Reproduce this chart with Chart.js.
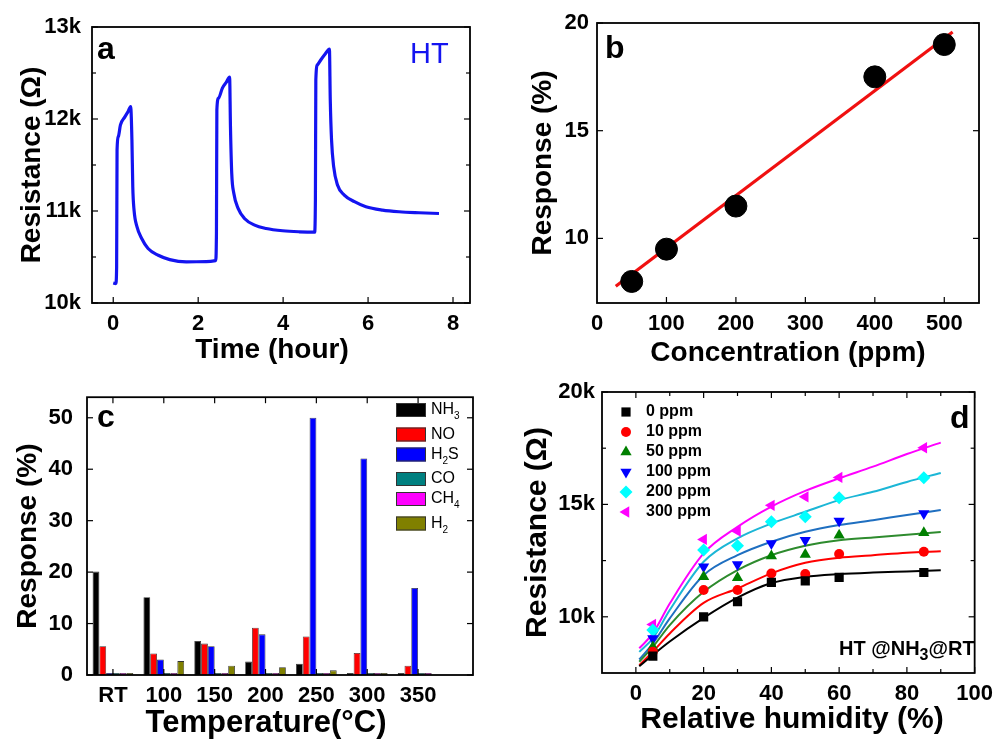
<!DOCTYPE html>
<html>
<head>
<meta charset="utf-8">
<script src="https://cdn.jsdelivr.net/npm/chart.js@4.4.0/dist/chart.umd.min.js"></script>
<style>
  html, body { margin: 0; padding: 0; background: #fff; }
  #fig { position: relative; width: 1001px; height: 740px; overflow: hidden; }
  canvas { position: absolute; }
</style>
</head>
<body>
<div id="fig">
  <canvas id="chartA" width="490" height="370" style="left:0;top:0"></canvas>
  <canvas id="chartB" width="511" height="370" style="left:490px;top:0"></canvas>
  <canvas id="chartC" width="490" height="370" style="left:0;top:370px"></canvas>
  <canvas id="chartD" width="511" height="370" style="left:490px;top:370px"></canvas>
</div>
<script>
// ------------------------------------------------------------
// (a) resistance vs time, three NH3 pulses
// ------------------------------------------------------------
const timeHours = [0, 0.06, 0.08, 0.09, 0.12, 0.17, 0.27, 0.35, 0.41, 0.44, 0.46, 0.49, 0.56, 0.67, 0.82, 1.06, 1.33, 1.72, 2.19, 2.41,
  2.43, 2.44, 2.48, 2.57, 2.66, 2.74, 2.76, 2.79, 2.84, 2.94, 3.09, 3.33, 3.60, 3.99, 4.38, 4.74,
  4.76, 4.77, 4.81, 4.89, 4.99, 5.09, 5.11, 5.14, 5.19, 5.28, 5.44, 5.68, 5.95, 6.34, 6.73, 7.20, 7.67];
const resistanceA = [10218, 10211, 10392, 11664, 11809, 11936, 12020, 12081, 12136, 11773, 11264, 11010, 10828, 10701, 10592, 10519, 10472, 10447, 10450, 10461,
  10756, 12100, 12227, 12336, 12397, 12455, 11918, 11409, 11191, 11028, 10919, 10846, 10810, 10785, 10774, 10770,
  11119, 12426, 12590, 12644, 12706, 12761, 12208, 11773, 11482, 11282, 11173, 11101, 11046, 11010, 10992, 10981, 10973];
const ticksAX = [0, 2, 4, 6, 8];
const ticksAY = [10000, 11000, 12000, 13000];
const minorAY = [10500, 11500, 12500];

// ------------------------------------------------------------
// (b) response vs concentration + linear fit
// ------------------------------------------------------------
const concentration = [50, 100, 200, 400, 500];
const responseB = [8.0, 9.5, 11.5, 17.5, 19.0];
const fitConc = [27, 512];
const fitResp = [7.78, 19.58];
const ticksBX = [100, 200, 300, 400, 500];
const ticksBXLabels = [0, 100, 200, 300, 400, 500];
const ticksBY = [10, 15, 20];

// ------------------------------------------------------------
// (c) selectivity vs operating temperature
// ------------------------------------------------------------
const temperatures = ['RT', '100', '150', '200', '250', '300', '350'];
const gasNames = ['NH3', 'NO', 'H2S', 'CO', 'CH4', 'H2'];
const respNH3 = [20.1, 15.1, 6.6, 2.6, 2.2, 0.4, 0.4];
const respNO = [5.6, 4.2, 6.1, 9.2, 7.5, 4.3, 1.8];
const respH2S = [0.4, 3.0, 5.6, 7.9, 50.0, 42.1, 16.9];
const respCO = [0.4, 0.4, 0.4, 0.4, 0.4, 0.4, 0.4];
const respCH4 = [0.4, 0.4, 0.4, 0.4, 0.4, 0.4, 0.4];
const respH2 = [0.4, 2.7, 1.8, 1.5, 0.9, 0.4, 0];
const ticksCY = [0, 10, 20, 30, 40, 50];

// ------------------------------------------------------------
// (d) resistance vs relative humidity at several NH3 levels
// ------------------------------------------------------------
const humidity = [5, 20, 30, 40, 50, 60, 85];
const ppmLabels = ['0 ppm', '10 ppm', '50 ppm', '100 ppm', '200 ppm', '300 ppm'];
const r0ppm = [8250, 10000, 10670, 11530, 11600, 11750, 11970];
const r10ppm = [8440, 11190, 11190, 11930, 11900, 12790, 12890];
const r50ppm = [8660, 11780, 11740, 12700, 12770, 13630, 13740];
const r100ppm = [9040, 12230, 12330, 13260, 13410, 14260, 14600];
const r200ppm = [9410, 12970, 13160, 14230, 14450, 15300, 16190];
const r300ppm = [9660, 13440, 13810, 14960, 15340, 16200, 17520];
const fitHumidity = [1, 5, 10, 20, 30, 40, 50, 60, 70, 80, 90];
const fit0ppm = [7800, 8300, 8900, 9950, 10850, 11500, 11780, 11900, 11970, 12020, 12070];
const fit10ppm = [7850, 8450, 9260, 10620, 11260, 11930, 12400, 12630, 12740, 12850, 12920];
const fit50ppm = [8000, 8660, 9630, 11110, 12080, 12740, 13160, 13410, 13530, 13650, 13770];
const fit100ppm = [8100, 8810, 9930, 11850, 12740, 13340, 13780, 14080, 14300, 14530, 14750];
const fit200ppm = [8440, 9040, 10300, 12450, 13490, 14150, 14670, 15190, 15560, 16000, 16400];
const fit300ppm = [8600, 9260, 10590, 12820, 14000, 14900, 15600, 16160, 16680, 17240, 17750];
const ticksDX = [0, 20, 40, 60, 80, 100];
const minorDX = [10, 30, 50, 70, 90];
const ticksDY = [10000, 15000, 20000];
const minorDY = [12500, 17500];

// ------------------------------------------------------------
// shared look
// ------------------------------------------------------------
const FONT = "'Liberation Sans', Arial, Helvetica, sans-serif";
Chart.defaults.font.family = FONT;
Chart.defaults.color = '#000';

const toXY = (xs, ys) => xs.map((x, i) => ({ x: x, y: ys[i] }));
const setTicks = (vals) => (s) => { s.ticks = vals.map((v) => ({ value: v })); };

// text where digits are written as subscripts (NH3, H2S ...)
function drawSubText(ctx, text, x, y, size, weight, subScale, subDrop) {
  let cx = x;
  for (const part of text.match(/\d+|\D+/g)) {
    const sub = /^\d+$/.test(part);
    ctx.font = `${weight} ${sub ? Math.round(size * subScale) : size}px ${FONT}`;
    ctx.fillText(part, cx, sub ? y + size * subDrop : y);
    cx += ctx.measureText(part).width;
  }
}

function drawMarker(ctx, style, rot, x, y, r) {
  ctx.save();
  ctx.translate(x, y);
  ctx.rotate(((rot || 0) * Math.PI) / 180);
  ctx.beginPath();
  if (style === 'circle') ctx.arc(0, 0, r, 0, 2 * Math.PI);
  else if (style === 'rect') { const s = r * Math.SQRT1_2; ctx.rect(-s, -s, 2 * s, 2 * s); }
  else if (style === 'rectRot') { ctx.moveTo(0, -r); ctx.lineTo(r, 0); ctx.lineTo(0, r); ctx.lineTo(-r, 0); ctx.closePath(); }
  else { ctx.moveTo(0, -r); ctx.lineTo(r * 0.866, r * 0.5); ctx.lineTo(-r * 0.866, r * 0.5); ctx.closePath(); }
  ctx.fill();
  ctx.restore();
}

// box frame, inward ticks on every side, panel letter, x title
const framePlugin = {
  id: 'frame',
  afterDraw(chart, args, o) {
    const { ctx, chartArea: a, scales } = chart;
    ctx.save();
    ctx.strokeStyle = '#000';
    ctx.lineWidth = 1.2;
    const xt = (vals, len) => vals.forEach((v) => {
      const p = scales.x.getPixelForValue(v);
      ctx.beginPath(); ctx.moveTo(p, a.bottom); ctx.lineTo(p, a.bottom - len); ctx.stroke();
      if (o.top) { ctx.beginPath(); ctx.moveTo(p, a.top); ctx.lineTo(p, a.top + len); ctx.stroke(); }
    });
    const yt = (vals, len) => vals.forEach((v) => {
      const p = scales.y.getPixelForValue(v);
      ctx.beginPath(); ctx.moveTo(a.left, p); ctx.lineTo(a.left + len, p); ctx.stroke();
      if (o.right) { ctx.beginPath(); ctx.moveTo(a.right, p); ctx.lineTo(a.right - len, p); ctx.stroke(); }
    });
    xt(o.xMajor || [], 6); xt(o.xMinor || [], 4);
    yt(o.yMajor || [], 6); yt(o.yMinor || [], 4);
    ctx.lineWidth = 1.8;
    ctx.strokeRect(a.left, a.top, a.right - a.left, a.bottom - a.top);
    ctx.fillStyle = '#000';
    if (o.letter) {
      ctx.font = `bold 32px ${FONT}`;
      ctx.textBaseline = 'alphabetic';
      ctx.fillText(o.letter, o.letterX, o.letterY);
    }
    if (o.xTitle) {
      ctx.font = `bold ${o.xTitleSize}px ${FONT}`;
      ctx.textAlign = 'center';
      ctx.textBaseline = 'middle';
      ctx.fillText(o.xTitle, o.xTitleX, o.xTitleY);
    }
    ctx.restore();
  }
};

function baseScale(size, opts) {
  return Object.assign({
    type: 'linear',
    grid: { display: false, drawTicks: false },
    border: { display: false },
    ticks: { font: { size: 22, weight: 'bold' }, color: '#000', padding: 8 }
  }, opts);
}
function axisTitle(text, size, pad) {
  return {
    display: true, text: text, color: '#000',
    font: { size: size, weight: 'bold', lineHeight: 1 },
    padding: { top: pad, bottom: 0 }
  };
}
const common = {
  responsive: false,
  animation: false,
  events: [],
};

// ------------------------------------------------------------
// (a)
// ------------------------------------------------------------
new Chart(document.getElementById('chartA'), {
  type: 'line',
  data: {
    datasets: [{
      data: toXY(timeHours, resistanceA),
      borderColor: '#1414f0',
      borderWidth: 3.2,
      pointRadius: 0,
      cubicInterpolationMode: 'monotone'
    }]
  },
  options: Object.assign({}, common, {
    layout: { padding: { top: 27, right: 20, left: 0, bottom: 0 } },
    plugins: {
      legend: { display: false }, tooltip: { enabled: false },
      frame: {
        xMajor: ticksAX, yMajor: ticksAY, yMinor: minorAY, right: true, letter: 'a', letterX: 97, letterY: 59,
        xTitle: 'Time (hour)', xTitleSize: 28, xTitleX: 272, xTitleY: 350
      }
    },
    scales: {
      x: baseScale(22, {
        min: -0.5, max: 8.4,
        afterBuildTicks: setTicks(ticksAX),
        afterFit: (s) => { s.height = 67; }
      }),
      y: baseScale(22, {
        min: 10000, max: 13000,
        afterBuildTicks: setTicks(ticksAY),
        afterFit: (s) => { s.width = 92; },
        ticks: { font: { size: 22, weight: 'bold' }, color: '#000', padding: 11, callback: (v) => v / 1000 + 'k' },
        title: axisTitle('Resistance (\u03A9)', 28, 18)
      })
    }
  }),
  plugins: [framePlugin, {
    id: 'htLabel',
    afterDraw(chart) {
      const ctx = chart.ctx;
      ctx.save();
      ctx.fillStyle = '#1414f0';
      ctx.font = `29px ${FONT}`;
      ctx.fillText('HT', 410, 63);
      ctx.restore();
    }
  }]
});

// ------------------------------------------------------------
// (b)
// ------------------------------------------------------------
new Chart(document.getElementById('chartB'), {
  type: 'scatter',
  data: {
    datasets: [
      { data: toXY(concentration, responseB), backgroundColor: '#000', borderColor: '#000', pointRadius: 11, showLine: false },
      { data: toXY(fitConc, fitResp), borderColor: '#f01010', borderWidth: 3.2, pointRadius: 0, showLine: true }
    ]
  },
  options: Object.assign({}, common, {
    layout: { padding: { top: 23, right: 22, left: 0, bottom: 0 } },
    plugins: {
      legend: { display: false }, tooltip: { enabled: false },
      frame: {
        xMajor: ticksBX, yMajor: ticksBY, right: true, letter: 'b', letterX: 115, letterY: 58,
        xTitle: 'Concentration (ppm)', xTitleSize: 28, xTitleX: 298, xTitleY: 353
      }
    },
    scales: {
      x: baseScale(22, {
        min: 0, max: 550,
        afterBuildTicks: setTicks(ticksBXLabels),
        afterFit: (s) => { s.height = 67; }
      }),
      y: baseScale(22, {
        min: 7, max: 20,
        afterBuildTicks: setTicks(ticksBY),
        afterFit: (s) => { s.width = 107; },
        title: axisTitle('Response (%)', 28, 39)
      })
    }
  }),
  plugins: [framePlugin]
});

// ------------------------------------------------------------
// (c)
// ------------------------------------------------------------
const gasSeries = [respNH3, respNO, respH2S, respCO, respCH4, respH2];
const gasColors = ['#000000', '#ff0000', '#0000ff', '#008080', '#ff00ff', '#808000'];
new Chart(document.getElementById('chartC'), {
  type: 'bar',
  data: {
    datasets: gasSeries.map((vals, g) => ({
      label: gasNames[g],
      data: vals.map((v, i) => ({ x: i, y: v })),
      backgroundColor: gasColors[g],
      borderColor: '#333',
      borderWidth: 0.8,
      categoryPercentage: 0.8,
      barPercentage: 1.0
    }))
  },
  options: Object.assign({}, common, {
    layout: { padding: { top: 25, right: 17, left: 0, bottom: 0 } },
    plugins: {
      legend: { display: false }, tooltip: { enabled: false },
      frame: {
        xMajor: temperatures.map((t, i) => i), yMajor: ticksCY, right: true, top: true, letter: 'c', letterX: 97, letterY: 57,
        xTitle: 'Temperature(\u00B0C)', xTitleSize: 31, xTitleX: 266, xTitleY: 353
      }
    },
    scales: {
      x: baseScale(22, {
        min: -0.51, max: 7.08,
        offset: false,
        afterBuildTicks: setTicks(temperatures.map((t, i) => i)),
        afterFit: (s) => { s.height = 65; },
        ticks: { font: { size: 22, weight: 'bold' }, color: '#000', padding: 8, callback: (v) => temperatures[v] }
      }),
      y: baseScale(22, {
        min: 0, max: 54,
        afterBuildTicks: setTicks(ticksCY),
        afterFit: (s) => { s.width = 87; },
        ticks: { font: { size: 22, weight: 'bold' }, color: '#000', padding: 14 },
        title: axisTitle('Response (%)', 28, 14)
      })
    }
  }),
  plugins: [framePlugin, {
    id: 'gasLegend',
    afterDraw(chart) {
      const ctx = chart.ctx;
      ctx.save();
      ctx.textBaseline = 'middle';
      let y = 40;
      chart.data.datasets.forEach((ds, i) => {
        if (i > 0) y += 20 + (/\d/.test(chart.data.datasets[i - 1].label) ? 4.5 : 0);
        ctx.fillStyle = ds.backgroundColor;
        ctx.fillRect(396, y - 7, 30, 14);
        ctx.strokeStyle = '#333';
        ctx.lineWidth = 1;
        ctx.strokeRect(396.5, y - 6.5, 29, 13);
        ctx.fillStyle = '#000';
        drawSubText(ctx, ds.label, 431, y, 16, 'normal', 0.6, 0.42);
      });
      ctx.restore();
    }
  }]
});

// ------------------------------------------------------------
// (d)
// ------------------------------------------------------------
const ppmSeries = [r0ppm, r10ppm, r50ppm, r100ppm, r200ppm, r300ppm];
const ppmFits = [fit0ppm, fit10ppm, fit50ppm, fit100ppm, fit200ppm, fit300ppm];
const markerColors = ['#000000', '#ff0000', '#008000', '#0000ff', '#00ffff', '#ff00ff'];
const fitColors = ['#000000', '#ff0000', '#2e8b2e', '#1f6fc0', '#1cb6d6', '#ff00ff'];
const markerStyles = ['rect', 'circle', 'triangle', 'triangle', 'rectRot', 'triangle'];
const markerRot = [0, 0, 0, 180, 0, -90];
const markerSize = [6.5, 5, 6.5, 6.5, 6.5, 6.5];

new Chart(document.getElementById('chartD'), {
  type: 'scatter',
  data: {
    datasets: ppmSeries.map((vals, k) => ({
      label: ppmLabels[k],
      data: toXY(humidity, vals),
      backgroundColor: markerColors[k],
      borderColor: markerColors[k],
      borderWidth: 0,
      pointStyle: markerStyles[k],
      rotation: markerRot[k],
      pointRadius: markerSize[k],
      showLine: false
    })).concat(ppmFits.map((vals, k) => ({
      label: '',
      data: toXY(fitHumidity, vals),
      borderColor: fitColors[k],
      borderWidth: 2,
      pointRadius: 0,
      showLine: true,
      cubicInterpolationMode: 'monotone'
    })))
  },
  options: Object.assign({}, common, {
    layout: { padding: { top: 22, right: 19, left: 0, bottom: 0 } },
    plugins: {
      legend: { display: false }, tooltip: { enabled: false },
      frame: {
        xMajor: ticksDX, xMinor: minorDX, yMajor: ticksDY, yMinor: minorDY, right: true, top: true, letter: 'd', letterX: 460, letterY: 58,
        xTitle: 'Relative humidity (%)', xTitleSize: 30, xTitleX: 302, xTitleY: 350
      }
    },
    scales: {
      x: baseScale(22, {
        min: -10, max: 100,
        afterBuildTicks: setTicks(ticksDX),
        afterFit: (s) => { s.height = 67; }
      }),
      y: baseScale(22, {
        min: 7500, max: 20000,
        afterBuildTicks: setTicks(ticksDY),
        afterFit: (s) => { s.width = 112; },
        ticks: { font: { size: 22, weight: 'bold' }, color: '#000', padding: 7, callback: (v) => v / 1000 + 'k' },
        title: axisTitle('Resistance (\u03A9)', 30, 33)
      })
    }
  }),
  plugins: [framePlugin, {
    id: 'ppmLegend',
    afterDraw(chart) {
      const ctx = chart.ctx;
      ctx.save();
      ctx.textBaseline = 'middle';
      chart.data.datasets.filter((ds) => ds.label).forEach((ds, k) => {
        const y = 42 + k * 20;
        ctx.fillStyle = ds.backgroundColor;
        drawMarker(ctx, ds.pointStyle, ds.rotation, 136, y, ds.pointRadius);
        ctx.fillStyle = '#000';
        ctx.font = `bold 16px ${FONT}`;
        ctx.fillText(ds.label, 156, y);
      });
      ctx.fillStyle = '#000';
      ctx.textBaseline = 'alphabetic';
      drawSubText(ctx, 'HT @NH3@RT', 349, 285, 20, 'bold', 0.8, 0.25);
      ctx.restore();
    }
  }]
});
</script>
</body>
</html>
